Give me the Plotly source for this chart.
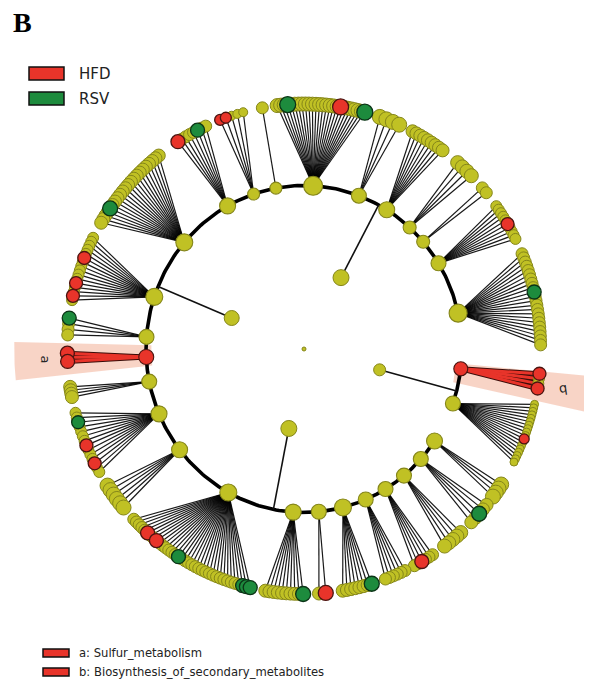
import numpy as np
import plotly.graph_objects as go

# ---------------- data ----------------
# level-2 clades placed on the ring (angle in degrees, counter-clockwise from 3 o'clock)
node_angle = [-7.2, -20.1, -35.2, -43.3, -51.7, -59.8, -67.7, -76.2, -84.8, -93.8,
              242.2, 219.0, 204.1, 191.9, 182.9, 175.6, 160.8, 138.3, 118.1, 108.0,
              99.9, 86.8, 70.3, 59.3, 49.0, 42.0, 32.5, 13.1]
node_abund = [14, 15, 16, 15, 15, 15, 15, 17, 15, 16,
              17, 16, 16, 15, 15, 15, 17, 17, 16, 12,
              12, 19, 15, 16, 13, 13, 15, 18]
# leaves (level-3) hanging from each clade
leaf_first = [-6.0, -13.5, -34.5, -40.5, -49.5, -58.0, -65.5, -80.9, -86.5, -99.1,
              225.0, 214.8, 195.6, 189.2, 181.0, 172.5, 152.2, 126.9, 121.3, 110.1,
              99.8, 96.3, 71.9, 63.5, 50.5, 42.1, 36.6, 23.6]
leaf_last = [-9.6, -28.3, -38.0, -46.0, -54.5, -63.0, -70.5, -73.9, -84.9, -90.2,
             257.3, 221.3, 211.0, 191.7, 183.0, 176.6, 168.1, 148.1, 113.8, 104.4,
             99.8, 75.6, 67.0, 55.1, 46.0, 40.6, 27.5, 1.0]
leaf_count = [4, 18, 4, 5, 5, 6, 6, 8, 2, 10,
              36, 6, 14, 4, 3, 4, 16, 22, 8, 5,
              1, 26, 4, 9, 4, 2, 10, 22]
leaf_abund = [11, 8, 15, 13, 14, 12, 12, 13, 13, 13,
              12, 15, 11, 13, 12, 12, 11, 13, 12, 9,
              12, 14, 15, 13, 14, 12, 11, 12]
# (clade index, leaf index) of the enriched leaves
hfd_leaves = [(0, 0), (0, 3), (1, 10), (5, 3), (8, 1), (10, 5), (10, 8),
              (12, 7), (12, 11), (14, 0), (14, 2), (16, 5), (16, 11), (16, 14),
              (18, 0), (19, 0), (19, 1), (21, 18), (26, 5)]
rsv_leaves = [(3, 2), (7, 7), (9, 9), (10, 15), (10, 33), (10, 34), (10, 35),
              (12, 2), (15, 0), (17, 17), (18, 5), (21, 3), (21, 25), (27, 9)]
hfd_nodes = [0, 14]
# level-1 clades (inner ring)
level1_angle = [62.6, 156.8, -15.4, -100.8]
level1_abund = [16, 15, 12, 16]
# ring arcs joining level-2 clades (start, end; counter-clockwise)
arc_start = [13.1, -20.1]
arc_end = [324.8, -7.2]
# highlighted clades
clade_labels = ["a", "b"]
clade_names = ["Sulfur_metabolism", "Biosynthesis_of_secondary_metabolites"]
clade_angle = [182.4, -9.0]
classes = ["HFD", "RSV"]

# ---------------- geometry helpers ----------------
SX = 0.966          # picture is slightly squeezed horizontally
R_L1, R_RING, R_LEAF = 81.0, 163.5, 245.0
YEL, YEL_E = "#c0c124", "#85861a"
RED, RED_E = "#e8342a", "#4a1410"
GRN, GRN_E = "#1d8b3d", "#0b3316"


def pt(r, ang):
    a = np.radians(ang)
    c, s = np.cos(a), np.sin(a)
    t = 1.0 / np.sqrt((c / (r * SX)) ** 2 + (s / r) ** 2)
    return t * c, t * s


def leaf_angles(i):
    n = leaf_count[i]
    if n == 1:
        return [leaf_first[i]]
    return list(np.linspace(leaf_first[i], leaf_last[i], n))


fig = go.Figure()

# highlighted wedges
for lab, ang in zip(clade_labels, clade_angle):
    hw = 3.8 if lab == "a" else 3.6
    angs = np.linspace(ang - hw, ang + hw, 20)
    xs, ys = [], []
    for a in angs:
        x, y = pt(300 if lab == "a" else 330, a)
        xs.append(x); ys.append(y)
    for a in angs[::-1]:
        x, y = pt(158, a)
        xs.append(x); ys.append(y)
    fig.add_trace(go.Scatter(x=xs, y=ys, fill="toself", fillcolor="rgba(247,205,188,0.85)",
                             line=dict(width=0), mode="lines", hoverinfo="skip"))

# thick ring arcs
for s, e in zip(arc_start, arc_end):
    angs = np.linspace(s, e, 300)
    xy = [pt(R_RING, a) for a in angs]
    fig.add_trace(go.Scatter(x=[p[0] for p in xy], y=[p[1] for p in xy], mode="lines",
                             line=dict(color="black", width=3.6), hoverinfo="skip"))

# level-1 spokes
lx, ly = [], []
for a in level1_angle:
    x0, y0 = pt(R_L1, a)
    x1, y1 = pt(R_RING, a)
    lx += [x0, x1, None]; ly += [y0, y1, None]
fig.add_trace(go.Scatter(x=lx, y=ly, mode="lines", line=dict(color="#111", width=1.6),
                         hoverinfo="skip"))

# fan lines
hfd_set = set(hfd_leaves)
fx, fy, rx, ry = [], [], [], []
for i, na in enumerate(node_angle):
    x0, y0 = pt(R_RING, na)
    for j, la in enumerate(leaf_angles(i)):
        x1, y1 = pt(R_LEAF, la)
        if i in hfd_nodes:
            rx += [x0, x1, None]; ry += [y0, y1, None]
        else:
            fx += [x0, x1, None]; fy += [y0, y1, None]
fig.add_trace(go.Scatter(x=fx, y=fy, mode="lines", line=dict(color="rgba(0,0,0,0.9)", width=1.2),
                         hoverinfo="skip"))
fig.add_trace(go.Scatter(x=rx, y=ry, mode="lines", line=dict(color="#3a0c08", width=5),
                         hoverinfo="skip"))
fig.add_trace(go.Scatter(x=rx, y=ry, mode="lines", line=dict(color=RED, width=3),
                         hoverinfo="skip"))

# leaves
yx, yy, ys_ = [], [], []
cx, cy, cs, cc, ce = [], [], [], [], []
rsv_set = set(rsv_leaves)
for i in range(len(node_angle)):
    for j, la in enumerate(leaf_angles(i)):
        x, y = pt(R_LEAF, la)
        if (i, j) in hfd_set or (i, j) in rsv_set:
            cx.append(x); cy.append(y); cs.append(leaf_abund[i] + 2)
            red = (i, j) in hfd_set
            cc.append(RED if red else GRN); ce.append(RED_E if red else GRN_E)
        else:
            yx.append(x); yy.append(y); ys_.append(leaf_abund[i])
fig.add_trace(go.Scatter(x=yx, y=yy, mode="markers",
                         marker=dict(size=ys_, color=YEL, opacity=1,
                                     line=dict(color=YEL_E, width=1)),
                         hoverinfo="skip"))
fig.add_trace(go.Scatter(x=cx, y=cy, mode="markers",
                         marker=dict(size=cs, color=cc, opacity=1,
                                     line=dict(color=ce, width=1.3)),
                         hoverinfo="skip"))

# ring nodes
nx, ny, nc, ne = [], [], [], []
for i, a in enumerate(node_angle):
    x, y = pt(R_RING, a)
    nx.append(x); ny.append(y)
    nc.append(RED if i in hfd_nodes else YEL)
    ne.append(RED_E if i in hfd_nodes else YEL_E)
fig.add_trace(go.Scatter(x=nx, y=ny, mode="markers",
                         marker=dict(size=node_abund, color=nc, opacity=1,
                                     line=dict(color=ne, width=1.1)),
                         hoverinfo="skip"))

# level-1 nodes and root
l1 = [pt(R_L1, a) for a in level1_angle]
fig.add_trace(go.Scatter(x=[p[0] for p in l1] + [0], y=[p[1] for p in l1] + [0], mode="markers",
                         marker=dict(size=level1_abund + [4], color=YEL, opacity=1,
                                     line=dict(color=YEL_E, width=1)),
                         hoverinfo="skip"))

# clade letters
for lab, ang in zip(clade_labels, clade_angle):
    x, y = pt(268 if lab == "a" else 272, ang)
    fig.add_annotation(x=x, y=y, text=lab, showarrow=False, textangle=90 if lab == "a" else 180 - 8,
                       font=dict(family="DejaVu Sans", size=13, color="#222"))

# page offset: the browser adds an 8px body margin, so the figure is 576x671
# and the data window is shifted so that data (0,0) sits at page pixel (304,349)
W, H = 576, 671
OFF = 8
shapes = []
annots = []
# class legend
for k, (cls, col) in enumerate(zip(classes, [RED, GRN])):
    y0 = 67 + 25 * k
    shapes.append(dict(type="rect", xref="x", yref="y", x0=29 - 304, x1=64 - 304,
                       y0=349 - y0, y1=349 - (y0 + 13), fillcolor=col,
                       line=dict(color="#111", width=1.5)))
    annots.append(dict(x=77 - 304, y=349 - (y0 + 6.5), xref="x", yref="y", text=cls,
                       showarrow=False, xanchor="left",
                       font=dict(family="DejaVu Sans", size=15, color="#222")))
# clade legend
for k, (lab, nm) in enumerate(zip(clade_labels, clade_names)):
    y0 = 649 + 19 * k
    shapes.append(dict(type="rect", xref="x", yref="y", x0=43 - 304, x1=69 - 304,
                       y0=349 - y0, y1=349 - (y0 + 8), fillcolor=RED,
                       line=dict(color="#111", width=1.5)))
    annots.append(dict(x=77 - 304, y=349 - (y0 + 4), xref="x", yref="y",
                       text=f"{lab}: {nm}", showarrow=False, xanchor="left",
                       font=dict(family="DejaVu Sans", size=11.6, color="#222")))
annots.append(dict(x=22 - 304, y=349 - 22, xref="x", yref="y", text="<b>B</b>",
                   showarrow=False, font=dict(family="Liberation Serif", size=28, color="black")))
for a in annots:
    fig.add_annotation(**a)

fig.update_layout(
    width=W, height=H, margin=dict(l=0, r=0, t=0, b=0),
    paper_bgcolor="white", plot_bgcolor="white", showlegend=False,
    shapes=shapes,
    xaxis=dict(range=[OFF - 304, OFF - 304 + W], visible=False, fixedrange=True),
    yaxis=dict(range=[349 - OFF - H, 349 - OFF], visible=False, fixedrange=True),
)
fig.write_html("out.html")
